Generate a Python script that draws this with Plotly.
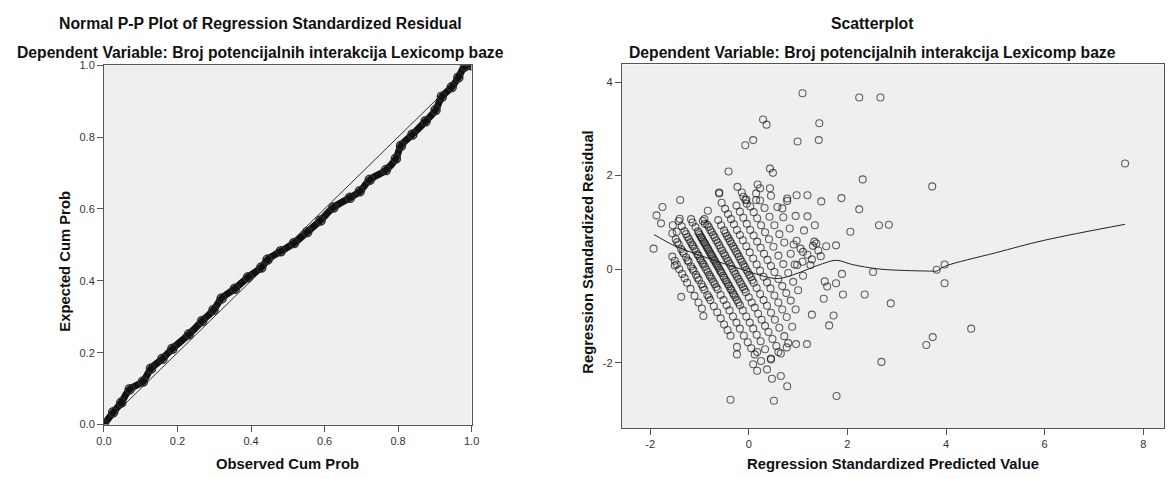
import plotly.graph_objects as go

# ---------------- Left: Normal P-P plot ----------------
pp_observed = [0.0, 0.025, 0.047, 0.070, 0.106, 0.128, 0.159, 0.186, 0.231, 0.267, 0.298, 0.320,
               0.356, 0.392, 0.428, 0.445, 0.481, 0.517, 0.553, 0.589, 0.624, 0.669, 0.696, 0.723,
               0.767, 0.794, 0.808, 0.839, 0.875, 0.902, 0.919, 0.946, 0.964, 0.982, 1.0]
pp_expected = [0.0, 0.034, 0.061, 0.098, 0.120, 0.156, 0.183, 0.211, 0.251, 0.288, 0.319, 0.351,
               0.378, 0.410, 0.437, 0.459, 0.482, 0.505, 0.536, 0.568, 0.604, 0.631, 0.649, 0.681,
               0.708, 0.740, 0.776, 0.807, 0.844, 0.875, 0.912, 0.939, 0.966, 0.997, 1.0]
pp_ticks = [0.0, 0.2, 0.4, 0.6, 0.8, 1.0]
pp_ticktext = ["0.0", "0.2", "0.4", "0.6", "0.8", "1.0"]

# ---------------- Right: scatterplot ----------------
pred = [
    # sparse / outlying points
    1.09, 0.29, 0.36, 1.43, -0.07, 0.09, 0.99, 1.42, 2.24, 2.67, -0.41, 0.43, 0.49, 2.31, -0.23, 0.18,
    0.23, 0.43, -0.60, -0.60, -0.14, -0.11, -0.07, -0.04, 0.15, 0.78, 0.97, 1.19, 1.47, 1.88, 2.24, 0.68,
    -0.83, 2.64, 2.84, 2.06, 1.57, 1.77, 1.54, 1.59, 1.77, 1.89, 1.52, 1.91, 2.35, 2.52, 2.88, 1.72,
    1.63, 2.69, 1.78, 1.28, 1.18, 0.96, 0.77, 0.78, 0.65, 0.47, 0.37, 0.25, 0.17, 0.09, 0.45, 0.51,
    -0.37, -0.24, 0.17, 0.60, 7.63, 3.72, 3.81, 3.97, 3.97, 4.51, 3.73, 3.60,
    -1.93, -1.87, -1.78, -1.75, -1.39, -1.54, -1.40, -1.46, -1.17, -1.14, -0.93, -0.89, -1.37, -1.50,
    1.19, 1.34, 1.33, 1.37, 1.41, 1.19, 1.28, 1.46, 1.09, 0.93, 1.05, 0.91,
    # band 1
    -1.55, -1.50, -1.46, -1.41, -1.35, -1.30, -1.25, -1.18, -1.10, -1.02, -0.95, -0.92,
    # band 2
    -1.55, -1.48, -1.42, -1.37, -1.32, -1.27, -1.22, -1.17, -1.12, -1.07, -1.01, -0.96, -0.90, -0.84,
    -0.78, -0.71, -0.64, -0.57, -0.50, -0.43, -0.37, -0.24,
    -1.45, -1.34, -1.24, -1.14, -1.04, -0.93, -0.81,
    # band 3
    -1.42, -1.36, -1.30, -1.24, -1.18, -1.13, -1.07, -1.02, -0.97, -0.92, -0.86, -0.80, -0.75, -0.69,
    -0.63, -0.57, -0.51, -0.45, -0.39, -0.32, -0.25, -0.18, -0.10, -0.02, 0.05, 0.12,
    -1.27, -1.21, -1.15, -1.10, -1.04, -0.99, -0.94, -0.89, -0.83, -0.78, -0.72, -0.66,
    # band 4 (densest)
    -1.08, -1.03, -0.99, -0.95, -0.91, -0.87, -0.83, -0.79, -0.75, -0.71, -0.67, -0.63, -0.59, -0.55,
    -0.50, -0.45, -0.40, -0.35, -0.30, -0.24, -0.18, -0.12, -0.05, 0.02, 0.09, 0.16, 0.24, 0.33, 0.45,
    -1.01, -0.97, -0.93, -0.89, -0.85, -0.81, -0.77, -0.73, -0.69, -0.65, -0.61, -0.57, -0.52, -0.47,
    -0.42, -0.37, -0.32, -0.27, -0.21,
    # band 5
    -0.90, -0.84, -0.78, -0.72, -0.66, -0.60, -0.54, -0.48, -0.42, -0.36, -0.30, -0.24, -0.18, -0.12,
    -0.06, 0.00, 0.06, 0.12, 0.19, 0.26, 0.33, 0.40, 0.48, 0.56, 0.65,
    -0.81, -0.75, -0.69, -0.63, -0.57, -0.51, -0.45, -0.39, -0.33, -0.27, -0.21, -0.15, -0.09,
    # band 6
    -0.62, -0.56, -0.50, -0.44, -0.38, -0.32, -0.26, -0.20, -0.14, -0.08, -0.02, 0.04, 0.10, 0.16,
    0.23, 0.30, 0.37, 0.45, 0.53, 0.62, 0.72, 0.80,
    -0.47, -0.41, -0.35, -0.29, -0.23, -0.17, -0.11, -0.05, 0.01, 0.07,
    # band 7
    -0.55, -0.48, -0.42, -0.36, -0.30, -0.24, -0.18, -0.12, -0.05, 0.02, 0.09, 0.16, 0.23, 0.30,
    0.37, 0.44, 0.52, 0.60, 0.68, 0.77, 0.88,
    # band 8
    -0.25, -0.18, -0.11, -0.04, 0.03, 0.10, 0.17, 0.24, 0.31, 0.38, 0.45, 0.52, 0.60, 0.68, 0.76,
    0.85, 0.95,
    # band 9
    -0.05, 0.03, 0.10, 0.17, 0.25, 0.33, 0.41, 0.50, 0.60, 0.70, 0.80, 0.90, 1.00,
    # band 10
    0.15, 0.23, 0.32, 0.42, 0.52, 0.62, 0.72, 0.85, 0.98, 1.10,
    # band 11
    0.45, 0.58, 0.70, 0.83, 0.97, 1.10, 1.25,
    # band 12
    0.78, 0.95, 1.12, 1.30,
]
resid = [
    3.76, 3.20, 3.09, 3.12, 2.65, 2.76, 2.73, 2.76, 3.67, 3.67, 2.09, 2.15, 2.06, 1.92, 1.76, 1.81,
    1.73, 1.73, 1.62, 1.64, 1.64, 1.55, 1.48, 1.40, 1.48, 1.51, 1.58, 1.58, 1.45, 1.52, 1.28, 1.30,
    1.25, 0.94, 0.95, 0.80, 0.49, 0.51, -0.26, -0.37, -0.30, -0.10, -0.63, -0.54, -0.54, -0.06, -0.73, -0.99,
    -1.20, -1.98, -2.71, -0.97, -1.60, -1.60, -1.67, -2.50, -2.28, -2.34, -2.14, -1.96, -2.17, -2.03, -1.91, -2.81,
    -2.79, -1.82, -1.77, -1.77, 2.26, 1.77, -0.01, 0.10, -0.30, -1.27, -1.45, -1.62,
    0.44, 1.15, 0.98, 1.33, 1.48, 0.94, 1.08, 0.80, 1.07, 1.00, 1.03, 0.97, -0.59, 0.08,
    1.13, 0.94, 0.59, 0.55, 0.40, 0.31, 0.21, 0.28, 0.16, 0.10, 0.44, 0.53,
    # band 1
    0.27, 0.18, 0.10, 0.00, -0.10, -0.19, -0.29, -0.42, -0.57, -0.71, -0.84, -1.00,
    # band 2
    0.77, 0.64, 0.53, 0.43, 0.34, 0.25, 0.16, 0.06, -0.03, -0.12, -0.23, -0.32, -0.44, -0.55,
    -0.66, -0.79, -0.92, -1.05, -1.18, -1.30, -1.42, -1.66,
    0.58, 0.38, 0.19, 0.01, -0.18, -0.38, -0.60,
    # band 3
    1.03, 0.92, 0.81, 0.69, 0.58, 0.49, 0.38, 0.29, 0.19, 0.10, -0.01, -0.12, -0.21, -0.32,
    -0.43, -0.55, -0.66, -0.77, -0.88, -1.01, -1.14, -1.27, -1.42, -1.56, -1.69, -1.82,
    0.75, 0.64, 0.53, 0.44, 0.32, 0.23, 0.14, 0.05, -0.06, -0.16, -0.27, -0.38,
    # band 4 (densest)
    0.90, 0.81, 0.73, 0.66, 0.58, 0.51, 0.44, 0.36, 0.29, 0.21, 0.14, 0.07, -0.01, -0.08,
    -0.18, -0.27, -0.36, -0.45, -0.55, -0.66, -0.77, -0.88, -1.01, -1.14, -1.27, -1.40, -1.54, -1.71, -1.93,
    0.77, 0.69, 0.62, 0.55, 0.47, 0.40, 0.32, 0.25, 0.18, 0.10, 0.03, -0.05, -0.14, -0.23,
    -0.32, -0.42, -0.51, -0.60, -0.71,
    # band 5
    1.07, 0.95, 0.84, 0.73, 0.62, 0.51, 0.40, 0.29, 0.18, 0.07, -0.05, -0.16, -0.27, -0.38,
    -0.49, -0.60, -0.71, -0.82, -0.95, -1.08, -1.21, -1.34, -1.49, -1.64, -1.80,
    0.90, 0.79, 0.68, 0.57, 0.45, 0.34, 0.23, 0.12, 0.01, -0.10, -0.21, -0.32, -0.43,
    # band 6
    1.05, 0.94, 0.83, 0.71, 0.60, 0.49, 0.38, 0.27, 0.16, 0.05, -0.06, -0.17, -0.29, -0.40,
    -0.53, -0.66, -0.78, -0.93, -1.08, -1.25, -1.43, -1.58,
    0.77, 0.66, 0.55, 0.44, 0.33, 0.21, 0.10, -0.01, -0.12, -0.23,
    # band 7
    1.42, 1.29, 1.18, 1.07, 0.96, 0.84, 0.73, 0.62, 0.49, 0.36, 0.23, 0.10, -0.03, -0.16,
    -0.28, -0.41, -0.56, -0.71, -0.86, -1.02, -1.23,
    # band 8
    1.36, 1.23, 1.10, 0.97, 0.84, 0.72, 0.59, 0.46, 0.33, 0.20, 0.07, -0.06, -0.21, -0.36, -0.51,
    -0.67, -0.86,
    # band 9
    1.49, 1.34, 1.22, 1.09, 0.94, 0.79, 0.64, 0.48, 0.29, 0.11, -0.08, -0.27, -0.45,
    # band 10
    1.62, 1.47, 1.31, 1.12, 0.94, 0.75, 0.57, 0.33, 0.09, -0.14,
    # band 11
    1.57, 1.33, 1.11, 0.87, 0.61, 0.37, 0.09,
    # band 12
    1.46, 1.14, 0.83, 0.50,
]

# Loess fit line
fit_x = [-1.92, -1.5, -1.0, -0.5, 0.0, 0.3, 0.6, 0.9, 1.2, 1.5, 1.78, 2.1, 2.6, 3.0, 3.7, 3.81, 3.97, 5.0, 6.0, 7.63]
fit_y = [0.74, 0.50, 0.30, 0.12, -0.05, -0.15, -0.20, -0.12, 0.00, 0.12, 0.19, 0.10, 0.01, -0.02, -0.04, -0.04, 0.06, 0.35, 0.62, 0.96]
sc_xticks = [-2, 0, 2, 4, 6, 8]
sc_xticktext = ["-2", "0", "2", "4", "6", "8"]
sc_yticks = [-2, 0, 2, 4]
sc_yticktext = ["-2", "0", "2", "4"]

FONT = "Liberation Sans, Arial, sans-serif"
PLOT_BG = "#efefef"
AX = "#555555"
TXT = "#111111"

fig = go.Figure()

# P-P diagonal
fig.add_trace(go.Scatter(x=[0, 1], y=[0, 1], mode="lines", line=dict(color="#333333", width=1),
                         xaxis="x", yaxis="y", showlegend=False, hoverinfo="skip"))
# P-P points (thick band of overlapping circles)
fig.add_trace(go.Scatter(x=pp_observed, y=pp_expected, mode="lines+markers",
                         line=dict(color="#111111", width=7, shape="spline"),
                         marker=dict(symbol="circle-open", size=9, color="#2a2a2a", line=dict(width=1.5)),
                         xaxis="x", yaxis="y", showlegend=False))

# Scatterplot points
fig.add_trace(go.Scatter(x=pred, y=resid, mode="markers",
                         marker=dict(symbol="circle-open", size=7, color="rgba(0,0,0,0.6)",
                                     line=dict(width=1.1)),
                         xaxis="x2", yaxis="y2", showlegend=False))
# Loess line
fig.add_trace(go.Scatter(x=fit_x, y=fit_y, mode="lines", line=dict(color="#222222", width=1, shape="spline"),
                         xaxis="x2", yaxis="y2", showlegend=False))

axis_common = dict(showgrid=False, zeroline=False, showline=True, linecolor=AX, linewidth=1, mirror=True,
                   ticks="outside", ticklen=6, tickcolor=AX,
                   tickfont=dict(family=FONT, size=11, color="#333333"))

W, H = 1174, 479


def ann(text, x, y, size, angle=0):
    return dict(text="<b>" + text + "</b>", x=x / W, y=1 - y / H, xref="paper", yref="paper",
                showarrow=False, xanchor="center", yanchor="middle", textangle=angle,
                font=dict(family=FONT, size=size, color=TXT))


fig.update_layout(
    width=W, height=H,
    margin=dict(l=0, r=0, t=0, b=0),
    paper_bgcolor="white",
    plot_bgcolor=PLOT_BG,
    xaxis=dict(domain=[97.3 / W, 470 / W], range=[0, 1], tickvals=pp_ticks, ticktext=pp_ticktext,
               anchor="y", **axis_common),
    yaxis=dict(domain=[1 - 429.3 / H, 1 - 60.7 / H], range=[0, 1], tickvals=pp_ticks, ticktext=pp_ticktext,
               anchor="x", **axis_common),
    xaxis2=dict(domain=[622.3 / W, 1172 / W], range=[-2.574, 8.42], tickvals=sc_xticks, ticktext=sc_xticktext,
                anchor="y2", **axis_common),
    yaxis2=dict(domain=[1 - 433 / H, 1 - 60 / H], range=[-3.396, 4.375], tickvals=sc_yticks, ticktext=sc_yticktext,
                anchor="x2", **axis_common),
    annotations=[
        ann("Normal P-P Plot of Regression Standardized Residual", 256, 18, 15.8),
        ann("Dependent Variable: Broj potencijalnih interakcija Lexicomp baze", 256, 48, 15.7),
        ann("Scatterplot", 876, 18, 15.8),
        ann("Dependent Variable: Broj potencijalnih interakcija Lexicomp baze", 876, 48, 15.7),
        ann("Observed Cum Prob", 283.5, 470, 14.8),
        ann("Expected Cum Prob", 58, 262, 14.8, -90),
        ann("Regression Standardized Predicted Value", 897, 470, 14.8),
        ann("Regression Standardized Residual", 588, 252, 14.8, -90),
    ],
)

fig.write_html("out.html")
